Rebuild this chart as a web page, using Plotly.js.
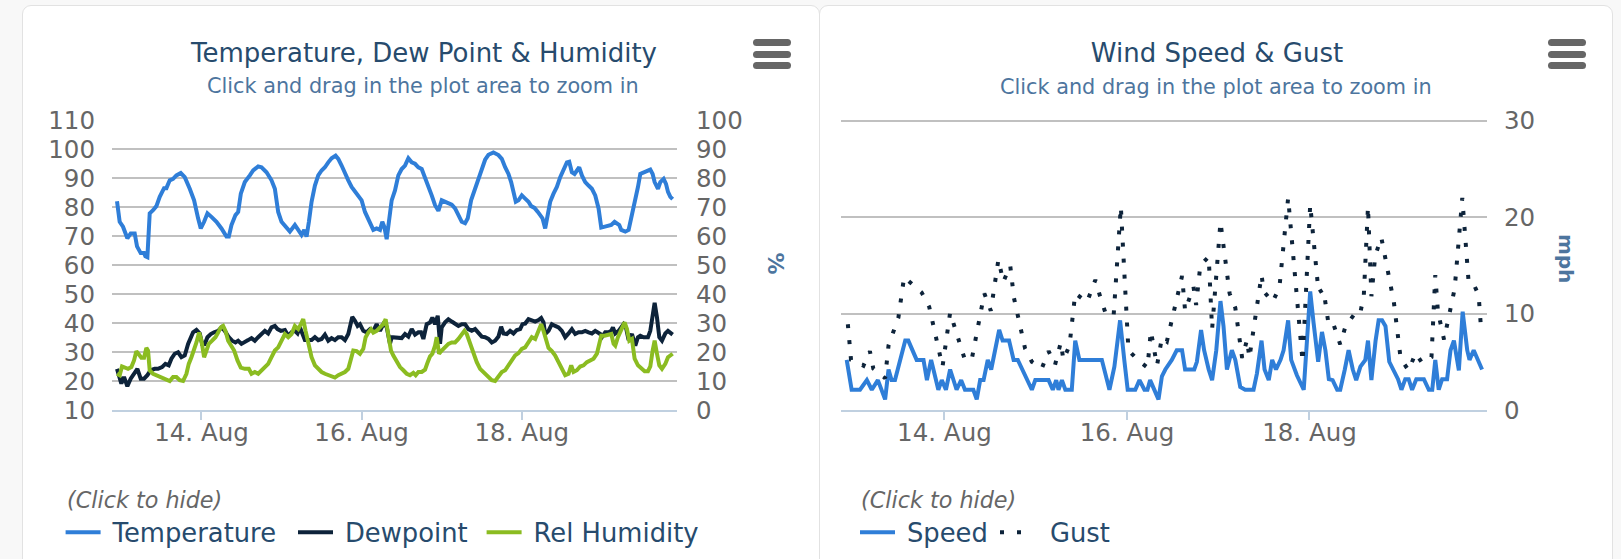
<!DOCTYPE html>
<html>
<head>
<meta charset="utf-8">
<script src="https://cdn.plot.ly/plotly-3.0.1.min.js"></script>
<style>
html,body{margin:0;padding:0;background:#f8f8f8;width:1621px;height:559px;overflow:hidden;font-family:'DejaVu Sans',sans-serif;}
.panel{position:absolute;top:5px;height:580px;background:#fff;border:1px solid #e2e2e2;border-radius:9px;box-sizing:border-box;}
#p1{left:22px;width:798px;}
#p2{left:819px;width:794px;}
.chart{position:absolute;left:0;top:0;}
.menu{position:absolute;top:33px;width:38px;height:30px;}
.menu span{position:absolute;left:0;width:38px;height:7px;border-radius:3.5px;background:#666;}
</style>
</head>
<body>
<div class="panel" id="p1">
  <div class="chart" id="chart1"></div>
  <div class="menu" style="left:730px;"><span style="top:0"></span><span style="top:11.5px"></span><span style="top:23px"></span></div>
</div>
<div class="panel" id="p2">
  <div class="chart" id="chart2"></div>
  <div class="menu" style="left:728px;"><span style="top:0"></span><span style="top:11.5px"></span><span style="top:23px"></span></div>
</div>
<script>
// ---- Data (hours since 13 Aug 00:00) ----
const temperatureHours = [-1.3,-0.5,0.5,1.8,2.8,4,4.7,5.8,6.8,7.2,7.8,8.5,9.5,10.5,11.5,12.8,13.5,14.5,15.5,16.5,17.8,19,20.5,21.8,23,23.8,24.8,25.8,27,28.5,30,31.5,32.2,33,34.2,35,35.8,37,38.5,39.5,41,42,43.5,45,46,47,48,49.5,50.5,
52,53,54,54.8,55.5,56.2,57,58,59,60,61,62,63,64.2,65,66,67,68,69,70,71,72,73,73.8,74.5,75.5,76.5,77.5,78.2,78.8,79.5,80.2,81,82,83,84,85,86,87,88,89,90,91,92,93,94,95,96,97,98,99,100,101,102,103,103.8,104.8,106,107,108,
109,110,111.5,113,114,115,116,116.8,117.5,118.2,119,120,121,122,122.8,123.8,124.8,125.5,126.2,127,127.8,128.5,129.5,130.5,131.5,132.5,133.5,134.2,135,135.8,136.5,137.2,138,139,140,141,142,143,143.8,144.8,145.8,146.8,147.8,148.5,149.2,149.8,151,152,153,154,154.8,155.5,156.5,157.5,158.5,159.2,159.8,160.8,161.5,162.5,163.2,163.8,164.5,165.2];
const temperatureValues = [82,74.9,73.2,69.2,70.9,70.9,66.4,64.1,64.1,63.0,62.7,77.8,78.9,80.3,83.5,86.5,86.5,89.2,89.7,90.9,91.7,90.3,86.3,82.3,76.1,72.6,74.9,77.8,76.6,74.9,72.6,69.8,69.8,73.8,77.2,78.3,84.6,88.6,90.9,92.6,94.0,93.7,92.0,89.2,86.3,78.3,74.9,72.6,71.5,
73.8,72.1,70.4,72.1,69.8,74.9,81.8,87.4,90.9,92.6,93.7,95.4,96.8,97.7,96.6,94.3,91.4,89.2,86.9,85.2,84.0,82.3,78.3,76.1,74.9,72.1,72.6,72.1,74.9,73.2,68.9,74.9,82.3,85.7,90.9,93.1,94.3,96.8,95.4,94.9,93.7,93.1,90.3,87.4,84.0,80.6,78.7,82.3,81.8,81.5,80.8,79.5,77.2,74.9,74.4,76.1,82.3,86.3,90.3,94,
96.3,98,98.8,97.9,96.6,93.7,91.4,88.6,85.2,81.8,82.3,84.0,82.9,81.8,80.3,79.7,78.3,77.2,76.1,72.6,77.2,81.8,84.6,86.9,90.3,93.1,95.4,95.6,92.0,91.4,92.6,93.7,90.9,88.6,87.4,86.3,84.0,79.5,72.9,73.2,73.8,73.8,74.9,74.4,73.8,72.1,71.5,72.1,77.2,81.8,86.9,91.4,92.0,92.6,92.9,91.4,88.6,86.3,88.6,89.7,88.0,85.2,83.5,82.7];

const dewpointHours = [-1.3,-0.5,0,0.8,1.8,2.8,3.8,4.8,5.8,6.8,7.8,8.8,10,11,12.2,13.2,14.2,15,16,17,18,19,20,20.8,21.5,22.5,23.5,24.2,25,25.8,26.8,27.8,29,30,31,32.2,33.2,34.2,35,36,37,38,39,40,41,42,43,44,45,46,46.8,47.8,49,50,51,
52,52.8,53.5,54.2,55,56,57,58,59,60,61,62,63,64,65,66,67,68,68.8,69.2,70,70.8,71.5,72.5,73.5,74.5,75.5,76.5,77.5,78.5,79.5,80.5,81,82,83,84,85,86,87,88,89,89.8,90.5,91.5,92.5,93.2,94,94.8,95.5,96,97,98,99,100,101,102,103,104,105,106,107,108,
109,110,111,112,113,113.8,114.5,115.5,116.5,117.5,118.5,119.5,120.2,121,122,123,124,125,125.8,126.5,127,128,129,130,131,132,133,134,135,136,137,138,139,140,141,142,143,143.5,144,145,146,146.8,147.3,148,149,149.8,150.5,151.2,152,153,154,154.8,155.5,156.5,157.8,158.5,159.2,159.8,160.5,161.2,162,163,163.8,164.5,165.2];
const dewpointValues = [24.2,21.4,19.1,21.4,18.2,20.8,22.5,24.2,20.8,20.8,22.0,23.7,24.2,24.2,24.8,25.9,25.4,27.7,29.4,29.9,28.2,28.8,32.8,35.1,36.8,37.6,36.4,32.8,32.8,35.1,36.2,36.8,37.3,38.5,37.3,35.1,33.9,33.3,33.9,32.8,33.3,34.1,34.8,33.9,35.1,36.0,37.3,36.4,38.5,39.0,37.9,37.3,37.6,35.6,36.8,
37.3,36.4,38.5,36.8,34.1,34.1,34.1,35.1,34.1,34.5,36.0,33.9,34.8,34.1,35.1,35.1,34.1,36.2,39.6,42.1,40.8,39.0,39.6,37.3,36.8,37.9,37.3,39.6,37.3,39.6,38.7,32.8,35.1,35.1,35.1,34.8,36.2,35.3,37.9,36.0,36.8,36.8,34.5,39.6,40.2,41.9,39.6,42.5,32.8,38.5,40.2,41.3,40.5,39.6,39.0,39.6,39.6,37.9,37.3,37.9,36.4,35.3,
35.1,34.5,33.3,33.9,35.3,38.7,36.4,36.2,37.3,36.4,37.6,37.9,39.6,39.8,41.3,41.0,40.5,41.0,41.7,40.2,36.2,37.3,39.6,39.0,38.5,37.3,35.1,36.4,37.9,36.2,36.8,36.8,37.3,36.8,36.4,37.3,36.8,36.2,35.1,36.8,36.8,37.3,38.5,36.4,37.3,38.5,39.6,38.5,34.1,36.2,32.2,35.1,35.6,35.1,35.1,37.3,41.9,47.0,41.9,35.1,33.9,36.4,37.3,36.8,36.0];

const humidityHours = [-1.3,-0.5,0.2,1,2,3,3.8,4.5,5.2,6,6.8,7.5,8,8.5,9.5,10.5,11.5,12.5,13.5,14.5,15.5,16.5,17.5,18.5,19.5,20.2,21,21.8,22.5,23.3,24,24.8,25.5,26.2,27.2,28.2,29,29.8,30.5,31.2,32,32.8,33.8,34.8,35.8,37,38.2,39,40,41,42,43,44,45,46,47,48,49,50,51,
52,53,53.8,54.5,55.2,56,57,58,59,60,61,62,63,64,65,66,67,68,68.8,69.5,70.5,71.5,72.5,73.2,74,74.8,75.5,76.5,77.5,78.5,79.2,80,80.8,81.5,82.5,83.5,84.5,85.5,86.5,87.5,88.2,89,90,91,91.8,92.5,93.2,94,94.5,95.2,96,97,98,99,100,101,102,102.8,103.5,104.5,105.5,106.5,107.5,108.5,
109,110,111,112,113,114,115,116,117,118,119,120,121,122,123,124,125,125.8,126.5,127.2,128,129,130,131,132,133,134,134.8,135.5,136.5,137.5,138.5,139.5,140.5,141.5,142.5,143.2,143.8,144.8,145.8,146.8,147.5,148,148.8,149.5,150.2,150.8,151.5,152.2,153,153.8,154.8,155.8,156.8,157.8,158.5,159.2,159.8,160.5,161.2,162,163,163.8,164.5,165.2];
const humidityValues = [12.5,12.0,15.0,14.8,14.2,14.8,17.1,20.3,19.4,18.0,18.0,21.4,20.5,13.7,12.5,12.0,11.4,10.8,10.5,10.0,11.4,11.4,10.3,10.0,12.5,15.9,18.2,20.5,23.3,26.7,23.9,18.2,20.5,22.8,23.9,25.1,26.7,28.5,29.0,27.3,23.9,22.2,20.5,17.1,14.6,14.2,14.2,12.5,13.1,12.5,13.7,14.8,15.9,18.2,20.5,21.6,23.9,26.2,25.1,26.2,
29.0,27.9,29.6,31.3,27.3,22.8,18.2,15.4,14.2,13.1,12.5,12.0,11.4,11.2,12.0,12.5,13.1,14.2,18.2,20.5,20.3,19.4,21.1,25.1,26.7,27.9,26.7,27.3,28.5,29.6,31.3,25.1,20.5,18.8,16.5,14.8,13.7,12.5,12.0,12.8,12.0,13.1,13.1,13.9,16.5,18.5,19.4,22.2,25.1,19.4,20.5,21.6,22.8,23.3,23.3,24.5,26.4,27.3,26.2,22.8,19.9,16.5,14.2,13.1,
12.5,11.4,10.3,10.0,11.4,13.1,13.7,15.4,16.9,18.8,19.6,21.1,21.6,23.3,25.1,24.5,27.3,29.6,27.3,23.9,21.4,20.3,18.8,16.5,14.2,12.0,12.5,15.4,13.1,13.7,15.0,15.4,16.5,17.1,17.7,19.4,22.8,25.6,25.6,26.0,26.2,22.8,22.2,25.1,26.7,28.5,30.2,27.9,23.9,24.5,17.7,15.4,14.2,13.4,13.4,15.0,20.5,23.9,19.4,15.4,14.2,15.9,18.2,18.8,19.4];

const speedHours = [-1.7,-0.4,1.8,3.6,4.9,6.5,8.4,9.3,10.1,11.0,13.7,14.5,16.7,18.5,19.4,20.5,22.4,23.3,24.4,25.5,27.2,28.4,29.4,31.6,32.5,33.4,34.3,35.4,36.3,38.4,39.3,41.0,42.2,43.3,47.0,47.9,
49.2,51.4,52.5,53.4,54.0,54.9,55.8,57.5,58.4,59.5,65.4,67.4,68.7,70.2,71.3,72.2,74.2,75.3,76.6,77.4,78.1,79.2,80.3,81.2,82.1,83.8,85.1,86.5,87.3,89.7,90.4,91.5,92.3,93.5,94.4,95.5,96.6,97.4,98.3,99.6,100.5,101.8,103.1,
105.3,106.2,107.4,108.2,109.3,110.2,111.2,112.4,113.2,114.4,115.2,116.7,118.5,119.4,120.2,121.1,122.3,123.3,124.2,125.1,126.1,127.3,128.1,129.3,130.3,131.4,132.3,133.4,134.7,135.4,136.3,137.4,138.2,139.1,140.0,141.0,142.2,143.3,144.2,145.2,146.1,147.0,148.1,150.1,151.4,152.3,153.1,154.0,154.9,156.2,157.1,158.0,159.3,160.3,161.5,162.1,163.2,164.5,165.4];
const speedValues = [5.2,2.1,2.1,3.1,2.1,3.1,1.1,4.2,3.1,3.1,7.2,7.2,5.2,5.2,3.1,5.2,2.1,3.1,2.1,4.2,2.1,3.1,2.1,2.1,1.1,3.1,3.1,5.2,4.2,8.3,7.2,7.2,5.2,5.2,2.1,3.1,
3.1,3.1,2.1,3.1,2.1,3.1,2.1,2.1,7.2,5.2,5.2,2.1,4.5,9.3,5.2,2.1,2.1,3.1,2.1,2.1,3.1,2.1,1.1,3.5,4.2,5.2,6.2,6.2,4.2,4.2,5.0,8.3,6.2,4.2,3.1,6.2,11.3,8.7,4.2,6.2,5.2,2.4,2.1,
2.1,3.8,7.2,4.2,3.1,5.2,4.2,5.2,6.2,9.3,5.2,3.6,2.1,7.2,12.3,9.0,5.0,8.1,6.2,3.2,3.1,2.1,2.1,4.2,6.2,4.2,3.1,4.5,5.2,7.2,3.1,7.2,9.3,9.3,8.7,5.0,4.0,3.2,2.1,3.2,3.2,2.1,3.2,3.2,2.1,2.1,5.2,2.1,3.2,3.2,6.2,7.2,4.1,10.2,6.2,5.2,6.2,5.0,4.2];

const gustHours = [-1.4,-0.56,1.2,2.7,4.4,5.3,8.4,9.3,11.9,13.4,15.4,18.0,20.0,23.5,25.5,29.4,31.2,34.5,36.2,38.2,39.5,41.3,42.3,45.2,47.0,49.6,51.4,
53.1,54.6,55.3,56.9,58.4,61.5,63.7,65.0,66.5,68.5,70.4,72.4,75.1,77.4,78.3,79.9,81.2,82.5,86.5,87.3,89.5,90.2,91.3,93.5,94.4,96.6,99.0,100.5,101.8,102.3,103.6,
104.2,107.4,108.0,110.3,112.1,114.4,118.2,120.2,122.4,123.7,125.1,126.4,128.1,129.5,132.5,133.4,134.3,135.4,136.3,137.3,138.9,142.2,144.0,146.1,147.9,149.6,152.1,153.1,153.8,155.4,158.2,160.2,161.9,163.5,164.5,165.2];
const gustValues = [8.9,5.2,4.9,4.6,6.1,4.3,3.3,6.7,9.6,13.8,13.1,12.2,10.7,4.5,10.1,5.2,5.3,12.1,10.3,15.6,13.3,15.0,11.6,6.4,5.0,4.3,6.1,
4.7,7.0,5.2,6.7,12.1,11.2,13.5,11.7,9.9,9.8,21.1,6.2,5.1,4.4,8.2,4.6,7.5,7.1,13.9,10.3,12.8,10.9,15.0,15.9,8.4,19.5,12.1,10.6,6.8,5.4,7.3,
5.4,14.0,12.3,11.2,12.7,22.0,5.0,21.3,12.2,12.5,8.7,8.8,6.8,8.7,10.3,10.1,11.9,21.1,11.8,16.0,17.9,11.2,5.3,4.1,5.9,4.9,5.5,14.0,10.2,7.3,12.6,22.0,13.1,12.8,11.9,8.1];

const leftTicks = [10,20,30,40,50,60,70,80,90,100,110];
const humidityTicks = [0,10,20,30,40,50,60,70,80,90,100];
const windTicks = [0,10,20,30];

// ---- helpers ----
const BASE = Date.UTC(2014,7,13);
function hToDate(h){ return new Date(BASE + h*3600000).toISOString().slice(0,19).replace('T',' '); }
const FONT = "'DejaVu Sans', sans-serif";
const H = 553;
function px(x, m, w){ return (x - m.l)/(w - m.l - m.r); }
function py(y, m){ return (H - m.b - y)/(H - m.t - m.b); }
const tickFont = {family:FONT, size:24.5, color:'#666666'};
const legendFont = {family:FONT, size:25.8, color:'#274b6d'};
function xAxis(r0, r1){
  return {type:'date', range:[hToDate(r0),hToDate(r1)], tick0:'2014-08-14', dtick:2*86400000, tickformat:'%-d. %b',
    showgrid:false, zeroline:false, showline:true, linecolor:'#C0D0E0', linewidth:2,
    ticks:'outside', ticklen:8, tickwidth:2, tickcolor:'#C0D0E0', tickfont:tickFont, ticklabelstandoff:-8, fixedrange:true};
}
function legendBox(x, w, iw){
  return {orientation:'h', xref:'container', yref:'container', x:x/w, y:1-503/H, xanchor:'left', yanchor:'top',
    font:legendFont, itemwidth:iw || 42, bgcolor:'rgba(0,0,0,0)', borderwidth:0};
}
// legend-only entries (no data) sharing a legendgroup with the real series, so clicking still hides it
function legendEntry(name, group, legend, line, yaxis){
  const t = {x:[null], y:[null], name:name, legendgroup:group, legend:legend, type:'scatter', mode:'lines', line:line, hoverinfo:'skip'};
  if (yaxis) t.yaxis = yaxis;
  return t;
}

// ---- Chart 1 ----
const W1 = 796, m1 = {l:89.3, r:142.3, t:114.3, b:149, pad:0};
const traces1 = [
  {x:temperatureHours.map(hToDate), y:temperatureValues, name:'Temperature', legendgroup:'t', showlegend:false, type:'scatter', mode:'lines',
   line:{color:'#2f7ed8', width:4}},
  {x:dewpointHours.map(hToDate), y:dewpointValues, name:'Dewpoint', legendgroup:'d', showlegend:false, type:'scatter', mode:'lines',
   line:{color:'#0d233a', width:4}},
  {x:humidityHours.map(hToDate), y:humidityValues, name:'Rel Humidity', legendgroup:'h', showlegend:false, type:'scatter', mode:'lines', yaxis:'y2',
   line:{color:'#8bbc21', width:4}},
  legendEntry('Temperature','t','legend',{color:'#2f7ed8', width:4, dash:'35px,100px'}),
  legendEntry('Dewpoint','d','legend2',{color:'#0d233a', width:4, dash:'35px,100px'}),
  legendEntry('Rel Humidity','h','legend3',{color:'#8bbc21', width:4, dash:'35px,100px'},'y2')
];
const layout1 = {
  width:W1, height:H, margin:m1, paper_bgcolor:'rgba(0,0,0,0)', plot_bgcolor:'#ffffff', font:{family:FONT},
  title:{text:'Temperature, Dew Point & Humidity', font:{family:FONT, size:26, color:'#274b6d'},
    xref:'container', x:0.5+3/W1, xanchor:'center', yref:'container', y:1-46.5/H, yanchor:'middle'},
  xaxis:xAxis(-2.8,166.5),
  yaxis:{range:[10,110], tickvals:leftTicks, showgrid:true, gridcolor:'#C0C0C0', gridwidth:2, zeroline:false, showline:false,
    ticks:'', tickfont:tickFont, ticklabelstandoff:16, fixedrange:true},
  yaxis2:{overlaying:'y', side:'right', range:[0,100], tickvals:humidityTicks, showgrid:false, zeroline:false, showline:false,
    ticks:'', tickfont:tickFont, ticklabelstandoff:18, fixedrange:true},
  showlegend:true,
  legend:legendBox(37.6,W1), legend2:legendBox(270,W1), legend3:legendBox(458.6,W1),
  annotations:[
    {text:'Click and drag in the plot area to zoom in', xref:'paper', yref:'paper', x:px(400,m1,W1), y:py(80.5,m1),
     xanchor:'center', yanchor:'middle', showarrow:false, font:{family:FONT, size:20.8, color:'#4d759e'}},
    {text:'<i>(Click to hide)</i>', xref:'paper', yref:'paper', x:px(42,m1,W1), y:py(494,m1),
     xanchor:'left', yanchor:'middle', showarrow:false, font:{family:FONT, size:22.3, color:'#666666'}},
    {text:'<b>%</b>', xref:'paper', yref:'paper', x:px(752,m1,W1), y:py(258,m1), textangle:90,
     xanchor:'center', yanchor:'middle', showarrow:false, font:{family:FONT, size:22, color:'#4d759e'}}
  ]
};
Plotly.newPlot('chart1', traces1, layout1, {displayModeBar:false});

// ---- Chart 2 ----
const W2 = 792, m2 = {l:21, r:125.3, t:109.5, b:149, pad:0};
const traces2 = [
  {x:speedHours.map(hToDate), y:speedValues, name:'Speed', legendgroup:'s', showlegend:false, type:'scatter', mode:'lines',
   line:{color:'#2f7ed8', width:4}},
  {x:gustHours.map(hToDate), y:gustValues, name:'Gust', legendgroup:'g', showlegend:false, type:'scatter', mode:'lines',
   line:{color:'#0d233a', width:4, dash:'4px,12px'}},
  legendEntry('Speed','s','legend',{color:'#2f7ed8', width:4, dash:'35px,100px'}),
  legendEntry('Gust','g','legend2',{color:'#0d233a', width:4, dash:'4px,13px,4px,100px'})
];
const layout2 = {
  width:W2, height:H, margin:m2, paper_bgcolor:'rgba(0,0,0,0)', plot_bgcolor:'#ffffff', font:{family:FONT},
  title:{text:'Wind Speed & Gust', font:{family:FONT, size:26, color:'#274b6d'},
    xref:'container', x:0.5+1/W2, xanchor:'center', yref:'container', y:1-46.5/H, yanchor:'middle'},
  xaxis:xAxis(-3.2,166.7),
  yaxis:{side:'right', range:[0,30.5], tickvals:windTicks, showgrid:true, gridcolor:'#C0C0C0', gridwidth:2, zeroline:false, showline:false,
    ticks:'', tickfont:tickFont, ticklabelstandoff:16, fixedrange:true},
  showlegend:true,
  legend:legendBox(35,W2), legend2:legendBox(175,W2,45),
  annotations:[
    {text:'Click and drag in the plot area to zoom in', xref:'paper', yref:'paper', x:px(396,m2,W2), y:py(80.5,m2),
     xanchor:'center', yanchor:'middle', showarrow:false, font:{family:FONT, size:20.8, color:'#4d759e'}},
    {text:'<i>(Click to hide)</i>', xref:'paper', yref:'paper', x:px(39,m2,W2), y:py(494,m2),
     xanchor:'left', yanchor:'middle', showarrow:false, font:{family:FONT, size:22.3, color:'#666666'}},
    {text:'<b>mph</b>', xref:'paper', yref:'paper', x:px(745,m2,W2), y:py(252,m2), textangle:90,
     xanchor:'center', yanchor:'middle', showarrow:false, font:{family:FONT, size:20, color:'#4d759e'}}
  ]
};
Plotly.newPlot('chart2', traces2, layout2, {displayModeBar:false});
</script>
</body>
</html>
